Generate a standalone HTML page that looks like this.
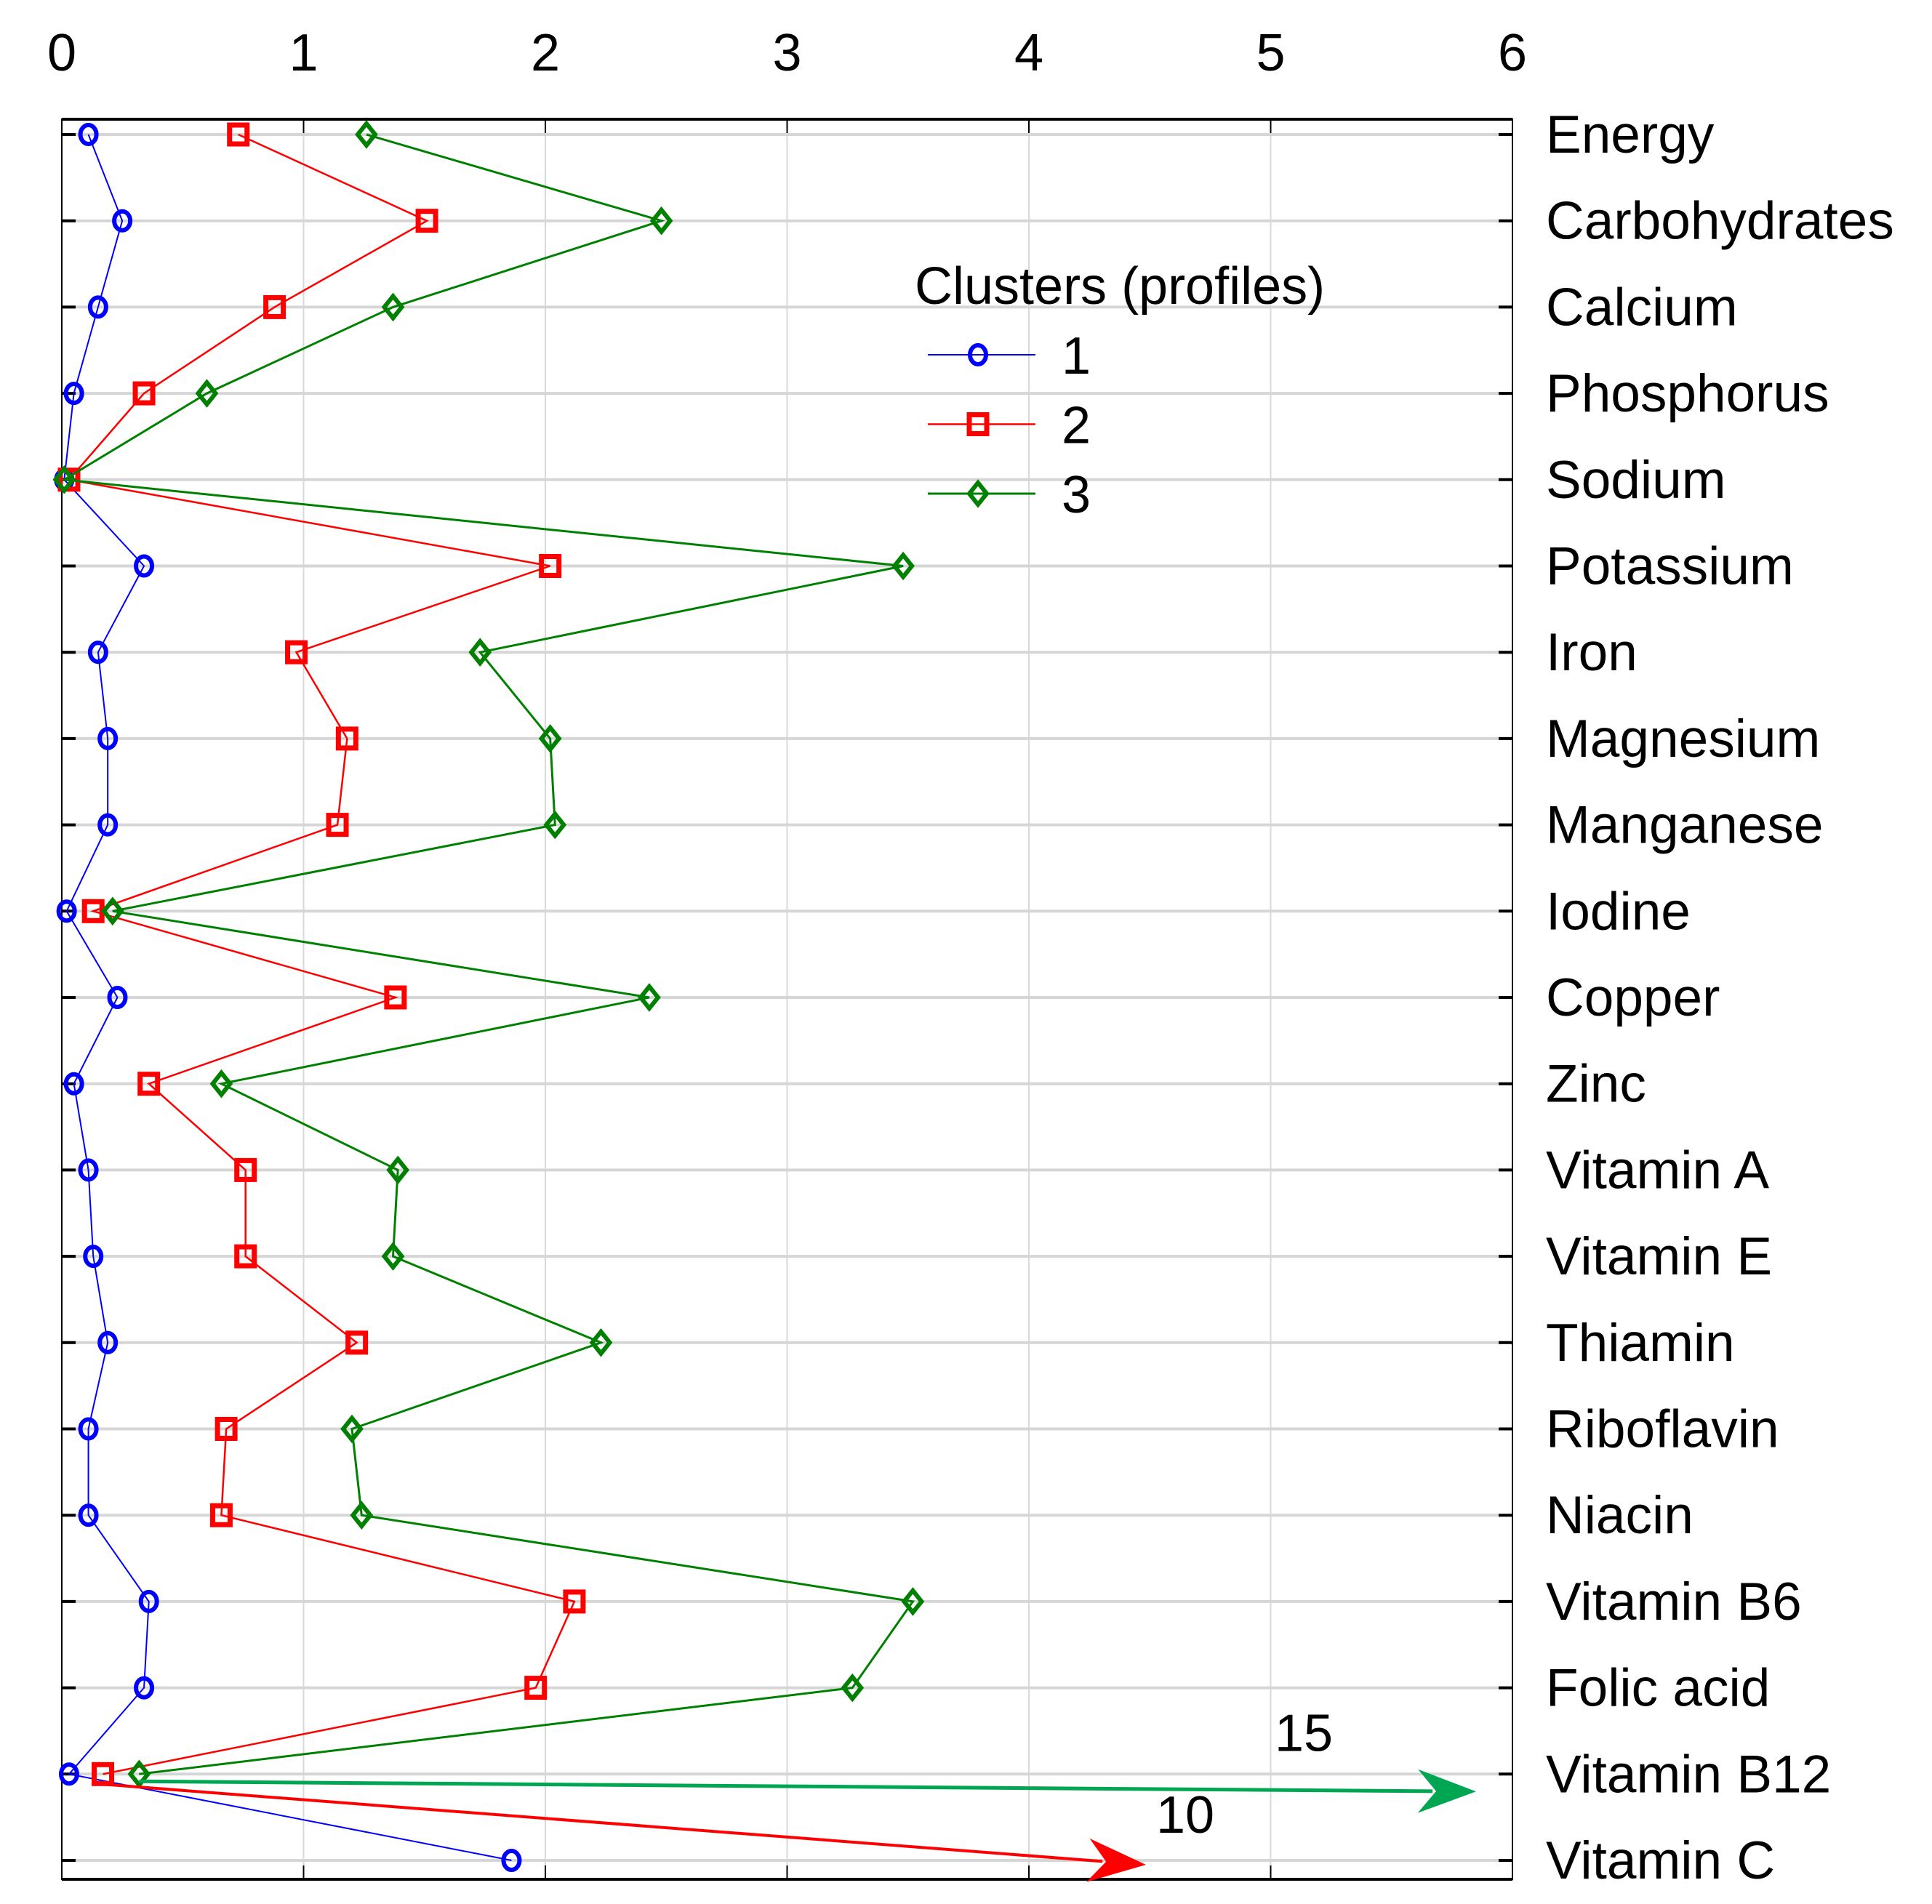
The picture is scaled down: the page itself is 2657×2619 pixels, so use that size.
<!DOCTYPE html>
<html><head><meta charset="utf-8"><style>
html,body{margin:0;padding:0;background:#fff;}
svg{display:block;font-family:"Liberation Sans",Arial,sans-serif;}
</style></head><body>
<svg id="chart" width="2657" height="2619" viewBox="0 0 2657 2619" xmlns="http://www.w3.org/2000/svg">
<g id="grid"></g>
<g id="axes"></g>
<g id="series"></g>
<g id="legend"></g>
</svg>
<script>
const categories = ["Energy","Carbohydrates","Calcium","Phosphorus","Sodium","Potassium","Iron","Magnesium","Manganese","Iodine","Copper","Zinc","Vitamin A","Vitamin E","Thiamin","Riboflavin","Niacin","Vitamin B6","Folic acid","Vitamin B12","Vitamin C"];
const cluster1 = [0.11,0.25,0.15,0.05,0.01,0.34,0.15,0.19,0.19,0.02,0.23,0.05,0.11,0.13,0.19,0.11,0.11,0.36,0.34,0.03,1.86];
const cluster2 = [0.73,1.51,0.88,0.34,0.03,2.02,0.97,1.18,1.14,0.13,1.38,0.36,0.76,0.76,1.22,0.68,0.66,2.12,1.96,0.17,10];
const cluster3 = [1.26,2.48,1.37,0.60,0.01,3.48,1.73,2.02,2.04,0.21,2.43,0.66,1.39,1.37,2.23,1.20,1.24,3.52,3.27,0.32,15];
const xTicks = [0,1,2,3,4,5,6];
const seriesNames = ["1","2","3"];

const NS="http://www.w3.org/2000/svg";
const L=85,R=2080,T=164,B=2585,Y0=185,DY=118.7,XMAX=6;
function xs(v){return L+(R-L)*v/XMAX;}
function ys(i){return Y0+i*DY;}
function mk(tag,attrs,parent){const e=document.createElementNS(NS,tag);for(const k in attrs)e.setAttribute(k,attrs[k]);parent.appendChild(e);return e;}
const grid=document.getElementById('grid'),axes=document.getElementById('axes'),ser=document.getElementById('series'),leg=document.getElementById('legend');

xTicks.forEach(t=>{
  const g=mk('line',{x1:xs(t),x2:xs(t),y1:T,y2:B,stroke:'#d9d9d9','stroke-width':2},grid);
  
  
  const tk1=mk('line',{x1:xs(t),x2:xs(t),y1:T,y2:T+19,stroke:'#000','stroke-width':2},axes);
  
  
  const tk2=mk('line',{x1:xs(t),x2:xs(t),y1:B-19,y2:B,stroke:'#000','stroke-width':2},axes);
  
  
  const tl=mk('text',{x:xs(t),y:97,'font-size':72,'text-anchor':'middle'},axes);
  tl.textContent=t;
  
  
});
categories.forEach((c,i)=>{
  const g=mk('line',{x1:L,x2:R,y1:ys(i),y2:ys(i),stroke:'#d6d6d6','stroke-width':4},grid);
  
  
  const a=mk('line',{x1:L,x2:L+19,y1:ys(i),y2:ys(i),stroke:'#000','stroke-width':4},axes);
  
  
  const b=mk('line',{x1:R-19,x2:R,y1:ys(i),y2:ys(i),stroke:'#000','stroke-width':4},axes);
  
  
  const tl=mk('text',{x:2126,y:ys(i)+25,'font-size':73},axes);
  tl.textContent=c;
  
  
});
const fr=mk('rect',{x:L,y:T,width:R-L,height:B-T,fill:'none',stroke:'#000','stroke-width':2},axes);


const tb=mk('line',{x1:L,x2:R,y1:T,y2:T,stroke:'#000','stroke-width':4},axes);


const bb=mk('line',{x1:L,x2:R,y1:B,y2:B,stroke:'#000','stroke-width':4},axes);



function marker(type,cx,cy,color,parent){
  let m;
  if(type==='circle') m=mk('ellipse',{cx:cx,cy:cy,rx:11,ry:13,fill:'none',stroke:color,'stroke-width':6},parent);
  else if(type==='square') m=mk('rect',{x:cx-12,y:cy-13,width:24,height:26,fill:'none',stroke:color,'stroke-width':7},parent);
  else m=mk('polygon',{points:`${cx},${cy-15} ${cx+12},${cy} ${cx},${cy+15} ${cx-12},${cy}`,fill:'none',stroke:color,'stroke-width':6},parent);
  return m;
}
const defs=[{d:cluster1,c:'#0000ff',m:'circle',w:2},{d:cluster2,c:'#ff0000',m:'square',w:2.5},{d:cluster3,c:'#008000',m:'diamond',w:3}];
const n=categories.length;
defs.forEach((s,si)=>{
  const g=mk('g',{},ser);
  
  
  const pts=[];
  s.d.forEach((v,i)=>{ if(v<=XMAX) pts.push([xs(v),ys(i)]); });
  const pl=mk('polyline',{points:pts.map(p=>p.join(',')).join(' '),fill:'none',stroke:s.c,'stroke-width':s.w},g);
  
  
  pts.forEach(p=>{
    const m=marker(s.m,p[0],p[1],s.c,g);
    
    
  });
});
const last=n-1;
const arrowSpecs=[{si:1,d:cluster2,c:'#ff0000',tx:1576,ty:ys(last)+6,lx:1630,ly:ys(last)-38,w:4},
                  {si:2,d:cluster3,c:'#00a651',tx:2030,ty:ys(last-1)+24,lx:1793,ly:ys(last-1)-32,w:5}];
arrowSpecs.forEach(a=>{
  const sx=xs(a.d[last-1]), sy=ys(last-1)+ (a.si===1?14:10);
  const ang=Math.atan2(a.ty-sy,a.tx-sx);
  const hl=80, hw=30;
  const bx=a.tx-hl*Math.cos(ang), by=a.ty-hl*Math.sin(ang);
  const ln=mk('line',{x1:sx,y1:sy,x2:bx+20*Math.cos(ang),y2:by+20*Math.sin(ang),stroke:a.c,'stroke-width':a.w},ser);
  
  
  const px=-Math.sin(ang),py=Math.cos(ang);
  const notch=[bx+25*Math.cos(ang),by+25*Math.sin(ang)];
  const hd=mk('polygon',{points:`${a.tx},${a.ty} ${bx+hw*px},${by+hw*py} ${notch[0]},${notch[1]} ${bx-hw*px},${by-hw*py}`,fill:a.c},ser);
  
  
  const t=mk('text',{x:a.lx,y:a.ly,'font-size':72,'text-anchor':'middle'},ser);
  t.textContent=String(a.d[last]);
  
  
});
const lt=mk('text',{x:1258,y:418,'font-size':72},leg);
lt.textContent='Clusters (profiles)';


defs.forEach((s,si)=>{
  const y=488+si*95.5;
  const g=mk('g',{},leg);
  
  
  mk('line',{x1:1276,x2:1424,y1:y,y2:y,stroke:s.c,'stroke-width':s.w},g);
  marker(s.m,1345,y,s.c,g);
  const t=mk('text',{x:1460,y:y+26,'font-size':72},g);
  t.textContent=seriesNames[si];
});
</script>
</body></html>
